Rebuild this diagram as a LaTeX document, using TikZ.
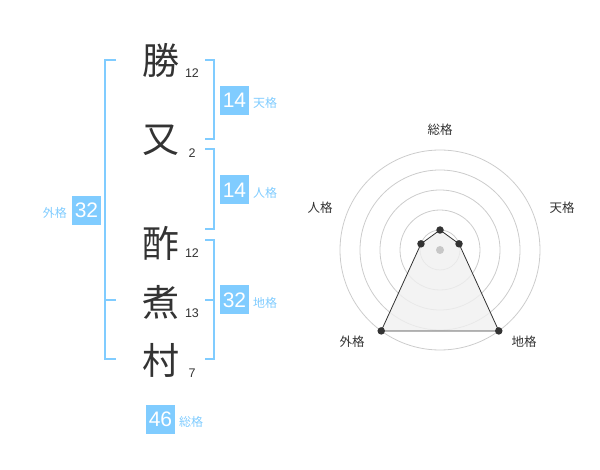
\documentclass[tikz,border=0pt]{standalone}
\usepackage{fontspec}
\setmainfont{Liberation Sans}
\newfontfamily\jpfont{Noto Sans CJK JP}
\usetikzlibrary{calc}
\definecolor{kakublue}{RGB}{128,204,255}
\definecolor{ink}{RGB}{51,51,51}

\begin{document}
\begin{tikzpicture}[x=1pt,y=-1pt,
	kanji/.style={font=\jpfont\fontsize{37}{37}\selectfont,text=ink,inner sep=0pt},
	strokes/.style={font=\fontsize{12.5}{12.5}\selectfont,text=ink,inner sep=0pt},
	kakubox/.style={fill=kakublue,text=white,minimum size=29pt,inner sep=0pt,font=\fontsize{21}{21}\selectfont},
	kakulabel/.style={text=kakublue,font=\jpfont\fontsize{12}{12}\selectfont,inner sep=0pt},
	bracket/.style={draw=kakublue,line width=2pt},
	ring/.style={draw=black!20,line width=0.8pt},
	axislabel/.style={text=ink,font=\jpfont\fontsize{12.5}{12.5}\selectfont,inner sep=0pt},
	vertex/.style={circle,fill=ink,inner sep=0pt,minimum size=7.5pt}]
					\useasboundingbox (0,0) rectangle (600,470);
					% name
					\node[kanji] (k1) at (161,60) {勝};
					\node[kanji] (k2) at (161,140) {又};
					\node[kanji] (k3) at (161,243) {酢};
					\node[kanji] (k4) at (161,302) {煮};
					\node[kanji] (k5) at (161,360) {村};
					\node[strokes] (s1) at (192,73) {12};
					\node[strokes] (s2) at (192,153) {2};
					\node[strokes] (s3) at (192,253) {12};
					\node[strokes] (s4) at (192,313) {13};
					\node[strokes] (s5) at (192,373) {7};
					% brackets
					\coordinate (La) at (105,60);
					\coordinate (Lb) at (105,359);
					\coordinate (Lm) at (105,300);
					\draw[bracket] ($(La)+(11,0)$) -- (La) -- (Lb) -- ($(Lb)+(11,0)$);
					\draw[bracket] (Lm) -- ($(Lm)+(11,0)$);
					\coordinate (Ta) at (214,60);
					\coordinate (Tb) at (214,139);
					\draw[bracket] ($(Ta)+(-9,0)$) -- (Ta) -- (Tb) -- ($(Tb)+(-9,0)$);
					\coordinate (Ja) at (214,149);
					\coordinate (Jb) at (214,229);
					\draw[bracket] ($(Ja)+(-9,0)$) -- (Ja) -- (Jb) -- ($(Jb)+(-9,0)$);
					\coordinate (Ca) at (214,240);
					\coordinate (Cb) at (214,359);
					\coordinate (Cm) at (214,300);
					\draw[bracket] ($(Ca)+(-9,0)$) -- (Ca) -- (Cb) -- ($(Cb)+(-9,0)$);
					\draw[bracket] (Cm) -- ($(Cm)+(-9,0)$);
					% scores
					\node[kakubox] (ten) at (234.5,100.5) {14};
					\node[kakulabel,anchor=west] at (253,103) {天格};
					\node[kakubox] (jin) at (234.5,190) {14};
					\node[kakulabel,anchor=west] at (253,193) {人格};
					\node[kakubox] (chi) at (234.5,300) {32};
					\node[kakulabel,anchor=west] at (253,303) {地格};
					\node[kakubox] (gai) at (86.5,210.5) {32};
					\node[kakulabel,anchor=east] at (67,213) {外格};
					\node[kakubox] (sou) at (160.5,419.5) {46};
					\node[kakulabel,anchor=west] at (179,422) {総格};
					% radar
					\coordinate (O) at (440,250);
					\foreach \r in {20,40,...,100}
						\draw[ring] (O) circle[radius=\r];
					\coordinate (pS) at ($(O)+(-90:20)$);
					\coordinate (pT) at ($(O)+(-18:20)$);
					\coordinate (pC) at ($(O)+(54:100)$);
					\coordinate (pG) at ($(O)+(126:100)$);
					\coordinate (pJ) at ($(O)+(198:20)$);
					\filldraw[fill=black!6,fill opacity=0.8,draw=ink,line width=0.8pt] (pS) -- (pT) -- (pC) -- (pG) -- (pJ) -- cycle;
					\fill[black!22] (O) circle[radius=4];
					\foreach \p in {pS,pT,pC,pG,pJ}
						\node[vertex] at (\p) {};
					\node[axislabel] (aS) at (440,130) {総格};
					\node[axislabel] (aT) at (562,208) {天格};
					\node[axislabel] (aJ) at (320,208) {人格};
					\node[axislabel] (aG) at (352,342) {外格};
					\node[axislabel] (aC) at (524,342) {地格};
				  \end{tikzpicture}
\end{document}
